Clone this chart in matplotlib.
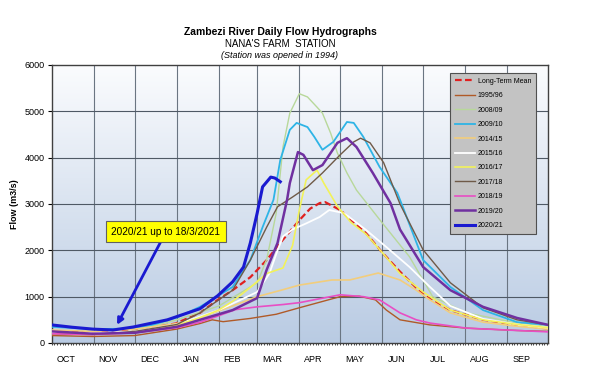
import numpy as np
import matplotlib
matplotlib.use("Agg")
import matplotlib.pyplot as plt
from matplotlib.colors import LinearSegmentedColormap

plt.rcParams['font.family'] = ['Liberation Sans', 'DejaVu Sans']

# ---------------- data (day of hydrological year from 1 Oct, flow m3/s) ----------------
months = ["OCT", "NOV", "DEC", "JAN", "FEB", "MAR", "APR", "MAY", "JUN", "JUL", "AUG", "SEP"]
month_start = [0, 31, 61, 92, 123, 151, 182, 212, 243, 273, 304, 335, 365]

mean_day = [0, 30, 60, 91, 109, 122, 133, 146, 158, 168, 182, 190, 197, 201, 212, 231, 243, 256, 268, 278, 293, 317, 342, 365]
mean_flow = [250, 230, 270, 420, 650, 930, 1140, 1420, 1790, 2160, 2650, 2900, 3020, 3040, 2870, 2370, 1950, 1540, 1190, 950, 710, 500, 390, 310]

y9596_day = [0, 30, 61, 92, 109, 118, 126, 146, 165, 182, 197, 212, 226, 238, 246, 256, 278, 305, 342, 365]
y9596_flow = [160, 140, 160, 300, 420, 500, 460, 530, 620, 760, 880, 1000, 1010, 930, 710, 500, 390, 320, 270, 250]

y0809_day = [0, 30, 61, 92, 123, 151, 158, 165, 170, 175, 182, 188, 195, 199, 205, 210, 217, 224, 243, 263, 280, 305, 342, 365]
y0809_flow = [220, 200, 260, 500, 800, 1300, 1800, 2800, 4230, 4960, 5380, 5310, 5090, 4960, 4530, 4100, 3670, 3300, 2590, 1860, 1000, 650, 430, 350]

y0910_day = [0, 30, 61, 75, 92, 109, 133, 146, 155, 163, 168, 175, 180, 188, 193, 199, 207, 217, 222, 229, 241, 254, 258, 273, 293, 317, 342, 365]
y0910_flow = [350, 300, 310, 400, 550, 780, 1210, 1790, 2500, 3090, 3950, 4600, 4750, 4660, 4450, 4170, 4340, 4770, 4750, 4450, 3800, 3240, 2940, 1790, 1210, 710, 450, 390]

y1415_day = [0, 30, 61, 92, 109, 133, 151, 170, 182, 206, 219, 240, 256, 268, 276, 293, 317, 342, 365]
y1415_flow = [280, 250, 300, 420, 550, 800, 1000, 1150, 1250, 1360, 1360, 1510, 1360, 1140, 970, 650, 450, 360, 300]

y1516_day = [0, 30, 61, 92, 122, 151, 160, 166, 170, 177, 187, 197, 204, 215, 231, 246, 263, 278, 293, 317, 342, 365]
y1516_flow = [230, 210, 250, 400, 700, 1100, 1500, 2000, 2300, 2450, 2580, 2720, 2870, 2800, 2440, 2070, 1640, 1210, 800, 520, 400, 330]

y1617_day = [0, 30, 61, 92, 109, 122, 133, 146, 158, 170, 177, 182, 187, 195, 200, 210, 220, 231, 243, 256, 273, 293, 317, 342, 365]
y1617_flow = [200, 180, 230, 380, 550, 700, 900, 1200, 1500, 1620, 2100, 2870, 3520, 3730, 3450, 2950, 2600, 2350, 1950, 1500, 1100, 710, 500, 400, 330]

y1718_day = [0, 30, 61, 92, 109, 133, 146, 158, 166, 177, 188, 199, 212, 222, 227, 234, 244, 256, 273, 293, 317, 342, 365]
y1718_flow = [200, 180, 250, 400, 650, 1140, 1790, 2500, 2940, 3150, 3370, 3670, 4060, 4340, 4420, 4320, 3890, 3000, 2010, 1300, 760, 500, 390]

y1819_day = [0, 30, 61, 92, 109, 122, 135, 151, 170, 182, 212, 229, 241, 256, 268, 278, 305, 342, 365]
y1819_flow = [200, 180, 220, 330, 450, 580, 720, 780, 830, 870, 1040, 1000, 930, 650, 500, 430, 320, 270, 240]

y1920_day = [0, 30, 61, 92, 109, 133, 151, 158, 166, 173, 175, 181, 185, 192, 199, 210, 217, 224, 236, 249, 256, 273, 293, 317, 342, 365]
y1920_flow = [250, 200, 220, 350, 500, 710, 970, 1580, 2160, 3090, 3450, 4120, 4060, 3730, 3840, 4320, 4420, 4230, 3670, 3020, 2450, 1640, 1140, 780, 540, 390]

y2021_day = [0, 15, 30, 45, 60, 85, 109, 122, 133, 141, 146, 151, 155, 161, 164, 168]
y2021_flow = [390, 340, 300, 280, 345, 500, 740, 1020, 1320, 1640, 2160, 2800, 3370, 3580, 3560, 3480]

series_names = ["Long-Term Mean", "1995/96", "2008/09", "2009/10", "2014/15", "2015/16",
                "2016/17", "2017/18", "2018/19", "2019/20", "2020/21"]

# ---------------- figure ----------------
fig = plt.figure(figsize=(6.06, 3.91), dpi=100)
ax = fig.add_axes([0.0853, 0.1228, 0.8195, 0.711])

# gradient background
cmap = LinearSegmentedColormap.from_list("bg", ["#fbfcfe", "#b9cbe3"])
grad = np.linspace(0, 1, 256).reshape(-1, 1)
ax.imshow(grad, aspect="auto", cmap=cmap, extent=[0, 365, 0, 6000], origin="upper", zorder=0)

styles = [
    dict(color="#e02020", lw=1.6, ls=(0, (3, 1.5))),
    dict(color="#b05a28", lw=1.0),
    dict(color="#b8d89a", lw=1.0),
    dict(color="#2eb4e6", lw=1.3),
    dict(color="#f2cd7c", lw=1.2),
    dict(color="#ffffff", lw=1.3),
    dict(color="#f2f25a", lw=1.2),
    dict(color="#6f5a48", lw=1.0),
    dict(color="#e84ec4", lw=1.2),
    dict(color="#7030a0", lw=1.8),
    dict(color="#1a1ad0", lw=2.2),
]
data = [(mean_day, mean_flow), (y9596_day, y9596_flow), (y0809_day, y0809_flow),
        (y0910_day, y0910_flow), (y1415_day, y1415_flow), (y1516_day, y1516_flow),
        (y1617_day, y1617_flow), (y1718_day, y1718_flow), (y1819_day, y1819_flow),
        (y1920_day, y1920_flow), (y2021_day, y2021_flow)]
order = [1, 2, 3, 4, 5, 6, 7, 8, 9, 0, 10]
handles = {}
for i in order:
    d, f = data[i]
    h, = ax.plot(d, f, label=series_names[i], zorder=3 + i * 0.1, **styles[i])
    handles[i] = h

ax.set_xlim(0, 365)
ax.set_ylim(0, 6000)

# grid
for m in month_start[1:-1]:
    ax.axvline(m, color="#6a7582", lw=0.8, zorder=1)
for v in range(1000, 6000, 1000):
    ax.axhline(v, color="#4f5965", lw=0.8, zorder=1)

ax.set_yticks(range(0, 6001, 1000))
ax.tick_params(axis="y", labelsize=6.5, length=3, width=0.8, pad=2)
label_pos = [month_start[k] + 0.35 * (month_start[k + 1] - month_start[k]) for k in range(12)]
ax.set_xticks(label_pos)
ax.set_xticklabels(months)
ax.tick_params(axis="x", labelsize=6.5, length=0, pad=9)
ax.set_xticks(np.arange(0, 366, 2), minor=True)
ax.tick_params(axis="x", which="minor", length=1.5, width=0.5, direction="out")
for s in ax.spines.values():
    s.set_color("#404040")
    s.set_linewidth(1.0)

ax.set_ylabel("Flow (m3/s)", fontsize=6.5, fontweight="bold", labelpad=4)

# titles
fig.text(0.462, 0.918, "Zambezi River Daily Flow Hydrographs", ha="center", va="center",
         fontsize=7.5, fontweight="bold")
fig.text(0.462, 0.887, "NANA'S FARM  STATION", ha="center", va="center", fontsize=7)
fig.text(0.462, 0.858, "(Station was opened in 1994)", ha="center", va="center",
         fontsize=6.5, style="italic")

# legend
leg = ax.legend([handles[i] for i in range(11)], series_names, loc="upper right",
                bbox_to_anchor=(0.975, 0.971),
                fontsize=5.0, frameon=True, fancybox=False, handlelength=3.0,
                labelspacing=1.07, borderpad=0.7, handletextpad=0.3, borderaxespad=0)
leg.get_frame().set_facecolor("#c3c3c3")
leg.get_frame().set_edgecolor("#505050")
leg.get_frame().set_alpha(1)
leg.get_frame().set_linewidth(0.8)
leg.set_zorder(20)

# annotation
ax.annotate("2020/21 up to 18/3/2021", xy=(48, 390), xytext=(84, 2400),
            fontsize=7.2, ha="center", va="center",
            bbox=dict(boxstyle="square,pad=0.55", fc="#ffff00", ec="#606060", lw=0.8),
            arrowprops=dict(arrowstyle="-|>", color="#1a1ad0", lw=2.0, mutation_scale=9,
                            shrinkA=0, shrinkB=0),
            zorder=10)

fig.savefig("out.png", dpi=100)
